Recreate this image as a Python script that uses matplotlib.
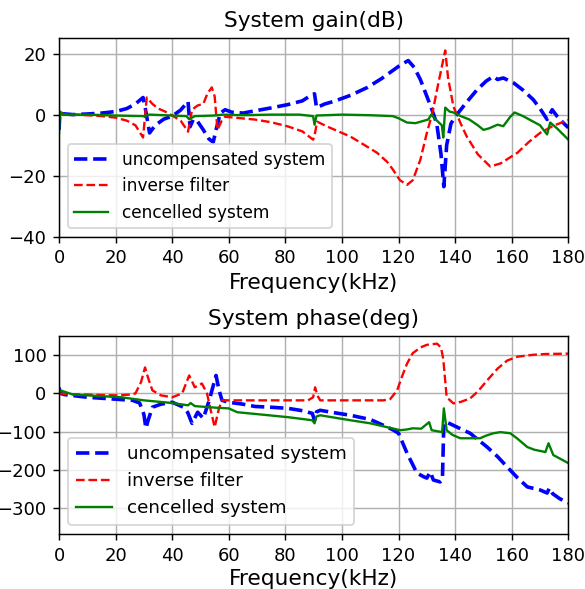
import matplotlib
matplotlib.use("Agg")
import matplotlib.pyplot as plt

# ---------------- Gain data (dB) ----------------
gain_unc_f = [0, 0.3, 1, 5, 10, 15, 20, 24, 27, 29.7, 30.5, 32, 34, 37, 40, 43, 45.6, 46.3, 47.5, 49, 51, 53,
              54.5, 55.5, 57, 58.7, 61, 65, 69, 75, 81, 86, 89.5, 90.3, 91, 94, 97, 103, 109, 114, 117, 120,
              123.4, 125.5, 127.7, 130, 131.8, 133.5, 135, 136, 137, 138.5, 140, 144, 147.8, 151, 153.5, 155,
              157, 160.5, 164, 167.6, 170, 172.5, 174.3, 176, 178, 180]
gain_unc = [-5, 0.5, 0.3, 0, 0.2, 0.5, 1, 2, 3.5, 5.6, 2, -6, -3.5, -1.5, -0.5, 1.5, 4.3, -4, -1.5, -2.3, -5, -8,
            -9, -5, 0.5, 1.6, 0.8, 0.5, 1.2, 2.2, 3.3, 4.5, 6.6, 6.8, 2.3, 3.5, 4.3, 6.3, 8.9, 11.8, 13.8, 15.8,
            17.7, 15.5, 11.5, 6, 1.6, -3, -13, -23.6, -10, -3, -0.7, 4, 8.2, 11, 12.5, 11.5,
            12, 10.5, 8, 4.9, 2, -1.6, 1.6, -0.5, -2.5, -4.3]

gain_inv_f = [0, 5, 10, 15, 20, 24, 27, 29.7, 31, 33, 35, 37.5, 40, 43, 45.6, 47, 49, 51, 52.5, 54, 55, 56,
              57.5, 58.7, 62, 69, 75, 81, 86, 89.8, 90.3, 91.2, 95, 103, 108, 112.4, 116, 118, 120.5, 123, 125,
              127.7, 130, 132, 134, 136.5, 137.5, 139.4, 142, 144, 148, 152.4, 156, 162, 166, 170, 175, 179.6, 180]
gain_inv = [0, 0, -0.2, -0.5, -1, -2, -3.5, -7.5, 5.6, 3.5, 2, 1, -0.3, -2, -5.6, 1.6, 3, 3.5, 7, 8.9, 6, -5,
            -2, -0.7, -1, -1.6, -2.5, -3.9, -5.5, -8.2, -7, -2.3, -4, -7.2, -10, -12.5, -15.5, -18, -21.5, -23, -21.5,
            -14.8, -6, 0.7, 10, 21, 12, 2.6, -3, -7, -13, -17, -16, -12.5, -9, -6, -3.5, -2, -1.8]

gain_can_f = [0, 0.3, 2, 10, 20, 30, 32, 40, 45, 46, 48, 55, 58, 65, 75, 85, 89.8, 90.3, 91, 100, 110, 118, 120,
              123, 126, 129, 130.5, 131.6, 133, 135.3, 135.8, 136.5, 138, 139.4, 142, 145, 148, 150, 152, 155, 157,
              159.5, 161, 164, 167.6, 170, 172.5, 173.6, 176, 180]
gain_can = [-6, 1, 0, 0, -0.3, -0.5, 0, -0.3, -0.5, -1.5, -0.5, -0.3, 0, -0.2, 0, 0, -0.5, -3.3, -0.3, 0, -0.2,
            -0.5, -1.2, -2.6, -2.8, -2, -1.6, 0, -1.5, -3.5, -7.5, 2.3, 1, 0.7, -0.5, -1.6, -3.5, -5, -4.5, -3.3,
            -3.8, -0.7, 0.7, -0.5, -2.3, -3.5, -6.5, -2.6, -4.5, -8.2]

# ---------------- Phase data (deg) ----------------
ph_unc_f = [0, 0.5, 2, 10, 20, 26, 28.5, 30, 30.7, 31.5, 33, 36, 40, 44, 45.5, 47, 49, 51, 53, 55.5, 56.5, 57.6,
            60, 65, 69.3, 75, 81, 86, 89.5, 90.3, 91, 92.3, 97, 103, 110, 114.6, 118, 120, 123, 126.5, 129, 130,
            131.2, 132.3, 134.7, 135.5, 136, 137, 140.7, 145.3, 151.3, 155, 158.4, 162, 165.5, 170, 172.5, 173.3,
            174.5, 177, 180]
ph_unc = [15, 0, -3, -10, -15, -18, -25, -55, -91, -70, -36, -28, -23, -36, -50, -78, -49, -65, -20, 47, 10, -18,
          -23, -28, -34, -36, -39, -45, -52, -70, -48, -44, -50, -57, -68, -83, -95, -104, -156, -208, -218, -221,
          -205, -226, -231, -225, -78, -75, -88, -104, -140, -165, -192, -220, -244, -252, -260, -247,
          -262, -275, -286]

ph_inv_f = [0, 5, 10, 20, 25, 27, 29, 30.4, 31.5, 33, 36, 40, 43.5, 46, 48, 50.5, 52.3, 53.5, 55, 56.5, 57.6, 60,
            70, 80, 88, 89.8, 90.5, 91.3, 92.3, 100, 110, 114.6, 117, 119.5, 121, 123, 125, 127.7, 130, 133.6, 135,
            135.8, 137, 139.4, 142, 145.3, 148, 151.3, 155, 158.4, 162, 167.6, 172, 180]
ph_inv = [0, -2, -3, -5, -3, 0, 30, 68, 40, 8, -5, -10, 0, 47, 16, 26, 0, -40, -88, -40, -18, -18,
          -18, -18, -18, -10, 16, -5, -18, -18, -18, -18, -15, 8, 40, 78, 105, 120, 127, 130, 120,
          90, -10, -26, -22, -13, 5, 34, 65, 86, 96, 101, 103, 104]

ph_can_f = [0, 0.5, 5, 10, 22, 30, 40, 45.6, 46.5, 48, 55, 60, 63, 70, 81, 89.5, 90.3, 91, 92.3, 103, 110, 120.6,
            123, 125, 128, 130.8, 131.7, 135.4, 136, 137, 139, 141.8, 145, 148.8, 151, 153.5, 156, 159.5, 162,
            165.5, 168, 171.9, 173, 174.7, 177, 180]
ph_can = [0, 8, -3, -5, -10, -18, -25, -31, -25, -33, -37, -39, -49, -54, -62, -70, -78, -60, -57, -70, -78, -96,
          -94, -91, -92, -75, -96, -101, -39, -96, -108, -117, -117, -117, -110, -104, -101, -104, -118,
          -140, -147, -153, -130, -161, -170, -182]

labels = ["uncompensated system", "inverse filter", "cencelled system"]
xticks = [0, 20, 40, 60, 80, 100, 120, 140, 160, 180]

plt.rcParams['font.family'] = ['DejaVu Sans']
plt.rcParams['font.size'] = 10

fig = plt.figure(figsize=(4.5, 4.531), dpi=130)
ax1 = fig.add_axes([0.1009, 0.598, 0.8706, 0.337])
ax2 = fig.add_axes([0.1009, 0.0934, 0.8706, 0.3361])

ax1.plot(gain_unc_f, gain_unc, 'b--', lw=2.0, label=labels[0])
ax1.plot(gain_inv_f, gain_inv, 'r--', lw=1.3, label=labels[1])
ax1.plot(gain_can_f, gain_can, 'g-', lw=1.3, label=labels[2])
ax1.set_xlim(0, 180)
ax1.set_ylim(-40, 25)
ax1.set_xticks(xticks)
ax1.set_yticks([-40, -20, 0, 20])
ax1.grid(True)
ax1.set_title("System gain(dB)", fontsize=12)
ax1.set_xlabel("Frequency(kHz)", fontsize=12, labelpad=3)
ax1.legend(loc='lower left', fontsize=9.4)

ax2.plot(ph_unc_f, ph_unc, 'b--', lw=2.0, label=labels[0])
ax2.plot(ph_inv_f, ph_inv, 'r--', lw=1.3, label=labels[1])
ax2.plot(ph_can_f, ph_can, 'g-', lw=1.3, label=labels[2])
ax2.set_xlim(0, 180)
ax2.set_ylim(-367, 150)
ax2.set_xticks(xticks)
ax2.set_yticks([-300, -200, -100, 0, 100])
ax2.grid(True)
ax2.set_title("System phase(deg)", fontsize=12)
ax2.set_xlabel("Frequency(kHz)", fontsize=12, labelpad=2.5)
ax2.legend(loc='lower left', fontsize=10.2)

fig.savefig("out.png", dpi=130)
